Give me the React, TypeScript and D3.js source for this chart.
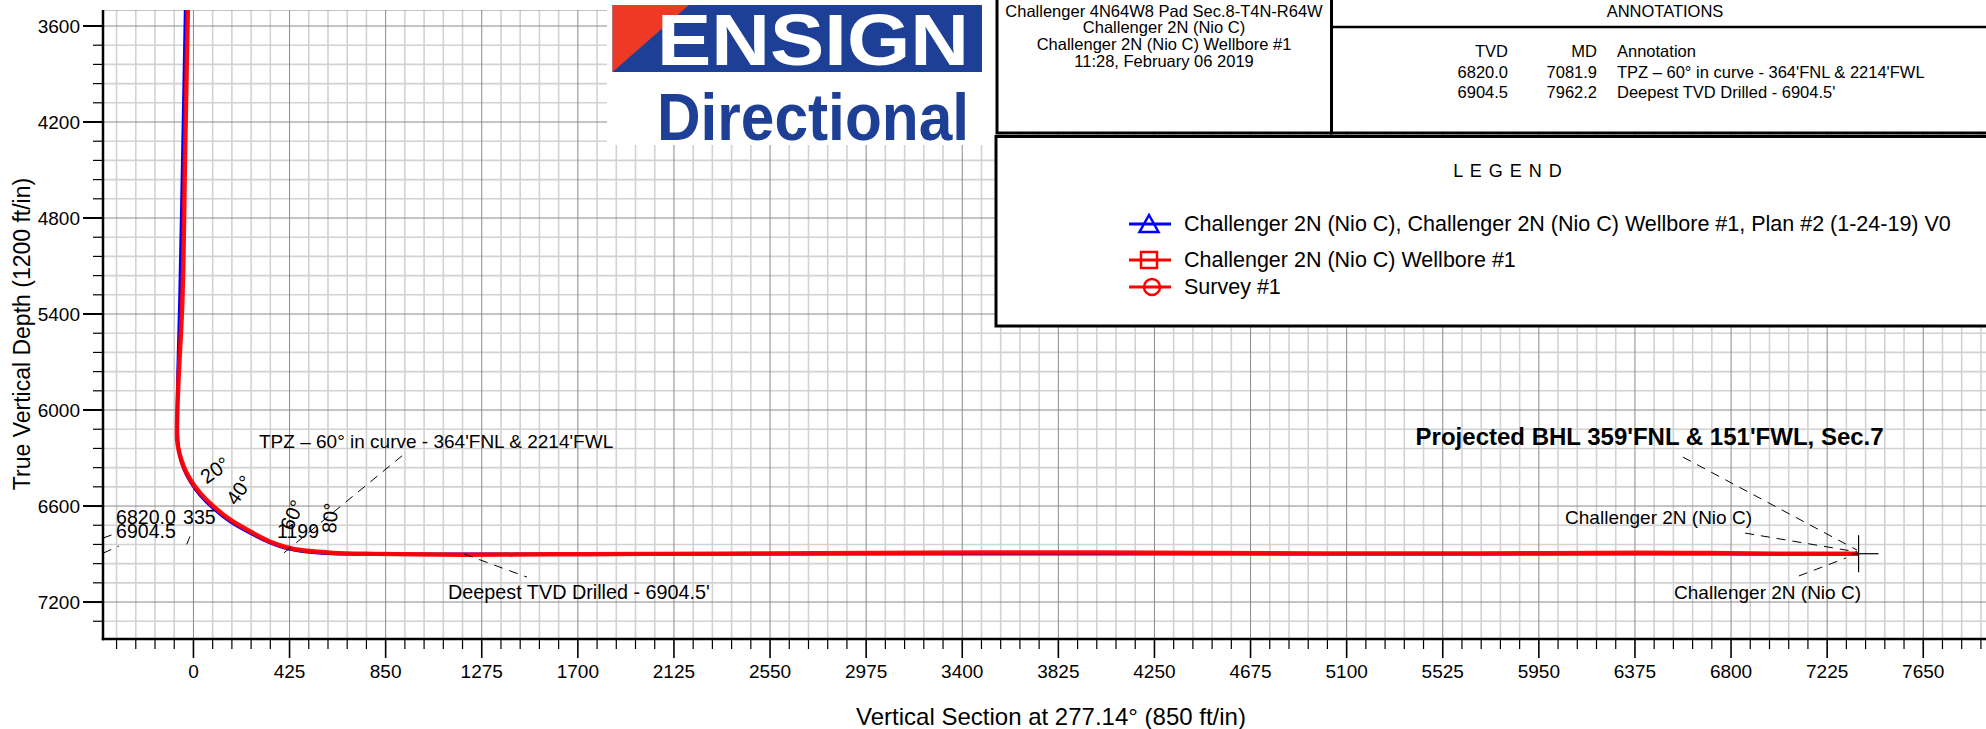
import * as d3 from "d3";

// ---- data -------------------------------------------------------------
const xMajorTicks = [0, 425, 850, 1275, 1700, 2125, 2550, 2975, 3400, 3825, 4250, 4675, 5100, 5525, 5950, 6375, 6800, 7225, 7650];
const yMajorTicks = [3600, 4200, 4800, 5400, 6000, 6600, 7200];

// plan #2 (blue) – vertical section / true vertical depth
const planVS = [-33, -36, -48, -61, -70, -71, -69, -61, -43, -13, 30, 88, 162, 265, 338, 408, 503, 620, 800, 1200, 2000, 3000, 4000, 5000, 6000, 7000, 7364];
const planTVD = [3300, 3500, 4400, 5312, 5812, 6050, 6187, 6283, 6368, 6451, 6535, 6617, 6699, 6781, 6830, 6864, 6887, 6898, 6900, 6900, 6900, 6899, 6899, 6899, 6899, 6899, 6899];

// wellbore #1 / survey #1 (red)
const surveyVS = [-22, -25, -37, -49, -66, -72, -72, -62, -43, -13, 31, 90, 164, 267, 335, 405, 500, 621, 800, 1199, 1600, 2000, 2500, 3000, 3500, 4000, 4500, 5000, 5500, 6000, 6400, 6700, 7000, 7364];
const surveyTVD = [3300, 3500, 4400, 5312, 5812, 6050, 6187, 6271, 6354, 6437, 6521, 6604, 6687, 6771, 6820, 6855, 6880, 6893, 6899, 6904.5, 6902, 6899, 6897, 6893, 6891, 6891, 6893, 6896, 6897, 6895, 6892, 6894, 6898, 6898];

const titleLines = ["Challenger 4N64W8 Pad Sec.8-T4N-R64W", "Challenger 2N (Nio C)", "Challenger 2N (Nio C) Wellbore #1", "11:28, February 06 2019"];
const annTVD = ["6820.0", "6904.5"];
const annMD = ["7081.9", "7962.2"];
const annText = ["TPZ \u2013 60\u00b0 in curve - 364'FNL & 2214'FWL", "Deepest TVD Drilled - 6904.5'"];
const legendNames = ["Challenger 2N (Nio C), Challenger 2N (Nio C) Wellbore #1, Plan #2 (1-24-19) V0", "Challenger 2N (Nio C) Wellbore #1", "Survey  #1"];

const target = { vs: 7364, tvd: 6898 };

// ---- layout -----------------------------------------------------------
const W = 1986;
const H = 729;
const font = "'Liberation Sans', Arial, sans-serif";

export default function App() {
  const x = d3.scaleLinear().domain([-400, 7930]).range([103, 103 + 8330 * 0.226118]);
  const y = d3.scaleLinear().domain([3500, 7431]).range([10, 639]);
  const left = x(-400);
  const bottom = y(7431);
  const top = y(3500);

  const minorX = d3.range(-340, 7990, 85).filter((v) => v % 425 !== 0);
  const majorX = d3.range(-425, 7990, 425).filter((v) => v > -400);
  const minorY = d3.range(3480, 7440, 120).filter((v) => v % 600 !== 0 && v > 3500 && v < 7431);

  const line = d3
    .line<number>()
    .x((_, i) => x(planVS[i]))
    .y((_, i) => y(planTVD[i]))
    .curve(d3.curveCatmullRom);
  const sline = d3
    .line<number>()
    .x((_, i) => x(surveyVS[i]))
    .y((_, i) => y(surveyTVD[i]))
    .curve(d3.curveCatmullRom);

  const tx = x(target.vs);
  const ty = y(target.tvd);

  const angleLabels = [
    { t: "20\u00b0", vs: 95, tvd: 6375, r: -35 },
    { t: "40\u00b0", vs: 202, tvd: 6500, r: -55 },
    { t: "60\u00b0", vs: 436, tvd: 6656, r: -65 },
    { t: "80\u00b0", vs: 604, tvd: 6675, r: -85 },
  ];
  const leaders = [
    [[-400, 6895], [-330, 6850]],
    [[-400, 6800], [-360, 6780]],
    [[-30, 6840], [-15, 6790]],
    [[400, 6893], [927, 6281]],
    [[1197, 6900], [1475, 7044]],
    [[6587, 6294], [7357, 6875]],
    [[6862, 6769], [7357, 6887]],
    [[7100, 7037], [7308, 6925]],
  ];

  return (
    <svg width={W} height={H} style={{ position: "absolute", left: 0, top: 0, background: "#fff" }} fontFamily={font}>
      <defs>
        <clipPath id="plot">
          <rect x={left} y={top} width={W - left} height={bottom - top} />
        </clipPath>
      </defs>
      {/* grid */}
      <g clipPath="url(#plot)">
        {minorX.map((v) => (
          <line key={"mx" + v} x1={x(v)} x2={x(v)} y1={top} y2={bottom} stroke="#d2d2d2" strokeWidth={1.6} />
        ))}
        {minorY.map((v) => (
          <line key={"my" + v} x1={left} x2={W} y1={y(v)} y2={y(v)} stroke="#d2d2d2" strokeWidth={1.6} />
        ))}
        {majorX.map((v) => (
          <line key={"Mx" + v} x1={x(v)} x2={x(v)} y1={top} y2={bottom} stroke="#8a8a8a" strokeWidth={1} />
        ))}
        {yMajorTicks.map((v) => (
          <line key={"My" + v} x1={left} x2={W} y1={y(v)} y2={y(v)} stroke="#8a8a8a" strokeWidth={1} />
        ))}
        <line x1={left} x2={W} y1={top} y2={top} stroke="#8a8a8a" strokeWidth={1.2} />

        {/* well paths */}
        <path d={line(planVS) ?? ""} fill="none" stroke="#0000ff" strokeWidth={3} />
        <path d={sline(surveyVS) ?? ""} fill="none" stroke="#ff0000" strokeWidth={4.5} strokeOpacity={0.95} />

        {/* leaders */}
        {leaders.map((l, i) => (
          <line key={"ld" + i} x1={x(l[0][0])} y1={y(l[0][1])} x2={x(l[1][0])} y2={y(l[1][1])} stroke="#000" strokeWidth={1} strokeDasharray="9,7" />
        ))}

        {/* target marker */}
        <line x1={tx} x2={tx} y1={ty - 18.5} y2={ty + 18.5} stroke="#000" strokeWidth={1.2} />
        <line x1={tx - 7} x2={tx + 20} y1={ty} y2={ty} stroke="#000" strokeWidth={1.2} />

        {/* annotation labels */}
        {angleLabels.map((a) => (
          <text key={a.t} transform={`translate(${x(a.vs)},${y(a.tvd)}) rotate(${a.r})`} fontSize={20} textAnchor="middle" dominantBaseline="central">
            {a.t}
          </text>
        ))}
        <text x={x(-342)} y={y(6712.5)} fontSize={19.5}>6820.0</text>
        <text x={x(-46)} y={y(6712.5)} fontSize={19.5}>335</text>
        <text x={x(-342)} y={y(6797)} fontSize={19.5}>6904.5</text>
        <text x={x(370)} y={y(6797)} fontSize={19.5}>1199</text>
        <text x={x(290)} y={y(6237.5)} fontSize={19}>{annText[0]}</text>
        <text x={x(1126)} y={y(7181)} fontSize={19.8}>{annText[1]}</text>
        <text x={x(5405)} y={y(6219)} fontSize={24} fontWeight="bold">Projected BHL 359'FNL &amp; 151'FWL, Sec.7</text>
        <text x={x(6066)} y={y(6712.5)} fontSize={19}>Challenger 2N (Nio C)</text>
        <text x={x(6548)} y={y(7181)} fontSize={19}>Challenger 2N (Nio C)</text>
      </g>

      {/* axes */}
      <line x1={left} x2={left} y1={top} y2={bottom + 1.2} stroke="#000" strokeWidth={2.5} />
      <line x1={left - 1.2} x2={W} y1={bottom} y2={bottom} stroke="#000" strokeWidth={2.5} />
      {d3.range(-340, 7990, 85).map((v) => (
        <line key={"tx" + v} x1={x(v)} x2={x(v)} y1={bottom} y2={bottom + (v % 425 === 0 ? 19 : 10)} stroke="#000" strokeWidth={v % 425 === 0 ? 1.6 : 1.2} />
      ))}
      {xMajorTicks.map((v) => (
        <text key={"lx" + v} x={x(v)} y={678} fontSize={19} textAnchor="middle">{v}</text>
      ))}
      {d3.range(3600, 7431, 120).map((v) => (
        <line key={"ty" + v} x1={left - (v % 600 === 0 ? 20 : 10)} x2={left} y1={y(v)} y2={y(v)} stroke="#000" strokeWidth={v % 600 === 0 ? 2 : 1.2} />
      ))}
      {yMajorTicks.map((v) => (
        <text key={"ly" + v} x={80} y={y(v)} fontSize={19} textAnchor="end" dominantBaseline="central">{v}</text>
      ))}
      <text transform="translate(30,334) rotate(-90)" fontSize={23} textAnchor="middle">True Vertical Depth (1200 ft/in)</text>
      <text x={1051} y={725} fontSize={24} textAnchor="middle">Vertical Section at 277.14{"\u00b0"} (850 ft/in)</text>

      {/* logo */}
      <rect x={607} y={0} width={389} height={145} fill="#fff" />
      <rect x={612.5} y={5} width={369.5} height={67} fill="#1d3f95" />
      <polygon points="612.5,5 689,5 612.5,72" fill="#ee3a24" />
      <text x={657} y={65} fontSize={72} fontWeight="bold" fill="#fff" textLength={312} lengthAdjust="spacingAndGlyphs">ENSIGN</text>
      <text x={657} y={140} fontSize={66} fontWeight="bold" fill="#1d3f95" textLength={312} lengthAdjust="spacingAndGlyphs">Directional</text>

      {/* title box */}
      <rect x={997} y={-3} width={334.5} height={136} fill="#fff" stroke="#000" strokeWidth={3} />
      {titleLines.map((t, i) => (
        <text key={t} x={1164} y={10.5 + i * 16.8} fontSize={16.5} textAnchor="middle" dominantBaseline="central">{t}</text>
      ))}

      {/* annotations box */}
      <rect x={1331.5} y={-3} width={700} height={136} fill="#fff" stroke="#000" strokeWidth={3} />
      <line x1={1331.5} x2={W} y1={27} y2={27} stroke="#000" strokeWidth={2.5} />
      <text x={1665} y={10.5} fontSize={16.5} textAnchor="middle" dominantBaseline="central">ANNOTATIONS</text>
      <text x={1508} y={51} fontSize={16.5} textAnchor="end" dominantBaseline="central">TVD</text>
      <text x={1597} y={51} fontSize={16.5} textAnchor="end" dominantBaseline="central">MD</text>
      <text x={1617} y={51} fontSize={16.5} dominantBaseline="central">Annotation</text>
      {annTVD.map((t, i) => (
        <g key={t}>
          <text x={1508} y={71.5 + i * 20} fontSize={16.5} textAnchor="end" dominantBaseline="central">{t}</text>
          <text x={1597} y={71.5 + i * 20} fontSize={16.5} textAnchor="end" dominantBaseline="central">{annMD[i]}</text>
          <text x={1617} y={71.5 + i * 20} fontSize={16.5} dominantBaseline="central">{annText[i]}</text>
        </g>
      ))}

      {/* legend */}
      <rect x={996} y={136.5} width={1000} height={189.5} fill="#fff" stroke="#000" strokeWidth={3} />
      <text x={1508} y={171} fontSize={18} textAnchor="middle" dominantBaseline="central" letterSpacing={1}>L E G E N D</text>
      {legendNames.map((n, i) => {
        const ly = [224, 260, 287][i];
        const c = i === 0 ? "#0000ff" : "#ff0000";
        return (
          <g key={n}>
            <line x1={1129} x2={1171} y1={ly} y2={ly} stroke={c} strokeWidth={3} />
            {i === 0 && <polygon points={`1149,${ly - 9} 1158.5,${ly + 8} 1139.5,${ly + 8}`} fill="none" stroke={c} strokeWidth={2.5} />}
            {i === 1 && <rect x={1141} y={ly - 8} width={16} height={16} fill="none" stroke={c} strokeWidth={2.5} />}
            {i === 2 && <circle cx={1152} cy={ly} r={8} fill="none" stroke={c} strokeWidth={2.5} />}
            <text x={1184} y={ly} fontSize={21.5} dominantBaseline="central">{n}</text>
          </g>
        );
      })}
    </svg>
  );
}
